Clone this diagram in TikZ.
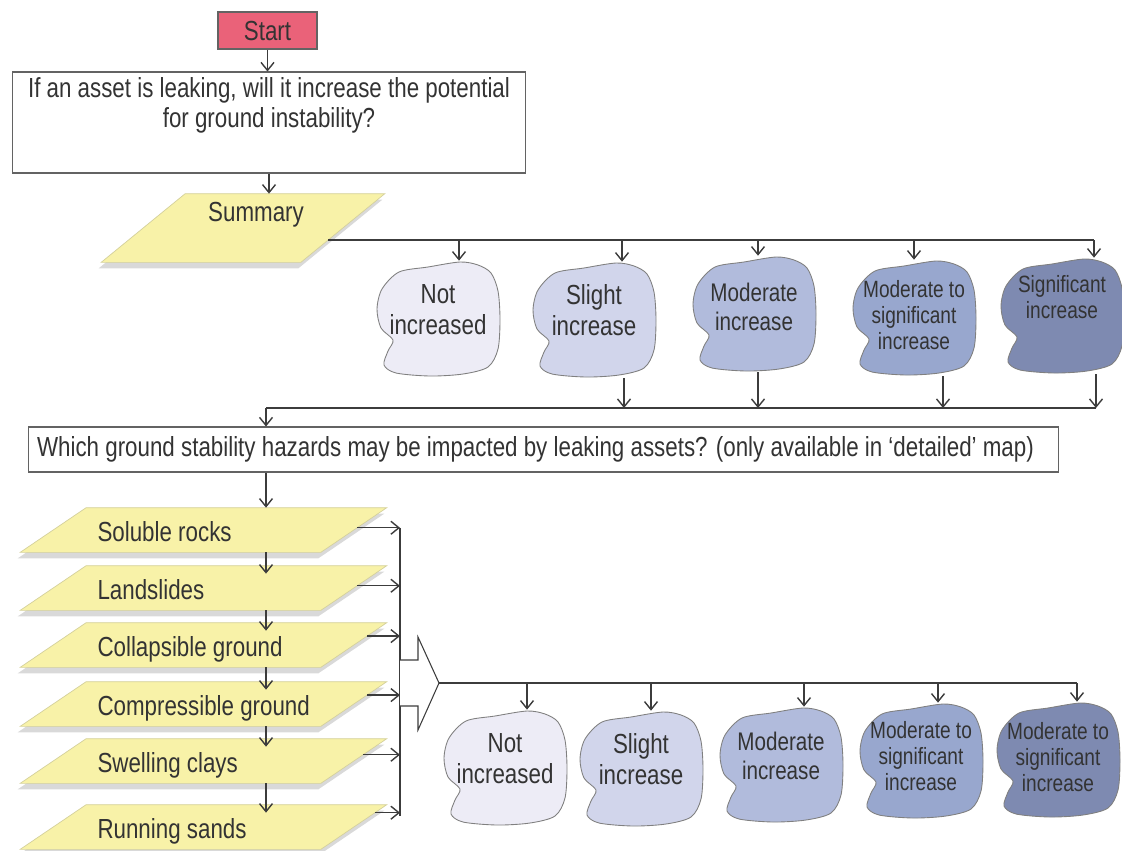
\documentclass[tikz,border=0pt]{standalone}
\usepackage{fontspec}
\setmainfont{Liberation Sans}[FakeStretch=0.81]
\usetikzlibrary{arrows.meta,positioning,calc,backgrounds,shadows}

\definecolor{linegray}{HTML}{3C3C3C}
\definecolor{startred}{HTML}{EA6279}
\definecolor{paleyellow}{HTML}{F8F2A8}
\definecolor{blobA}{HTML}{EDECF6}
\definecolor{blobB}{HTML}{D1D5EB}
\definecolor{blobC}{HTML}{B1BBDC}
\definecolor{blobD}{HTML}{98A7CE}
\definecolor{blobE}{HTML}{7E8AB1}

\newcommand{\bigfont}{\fontsize{15.7}{17.3}\selectfont}
\newcommand{\midfont}{\fontsize{14.5}{16.4}\selectfont}
\newcommand{\smallfont}{\fontsize{13.4}{14.8}\selectfont}
% text in a blob, lifted a bit above the middle
\newcommand{\blobtext}[2][2.4mm]{\begin{tabular}{@{}c@{}}#2\\[#1]\end{tabular}}

\tikzset{
  conn/.style={draw=linegray, line width=0.8pt},
  arr/.style={conn, -{Straight Barb[length=1.6mm,width=2.6mm]}},
  box/.style={draw=linegray!80, line width=0.6pt, fill=white, inner sep=0pt},
  hazard/.style={minimum width=6cm, minimum height=0.88cm, inner sep=0pt,
    text height=0.44cm, text depth=0cm},
  para/.style={fill=paleyellow, draw=paleyellow!70!gray, line width=0.4pt,
    drop shadow={shadow xshift=-0.5mm, shadow yshift=-1.2mm, opacity=0.3}},
  blob/.style={minimum width=2.56cm, minimum height=2.32cm, inner sep=0pt},
  blobline/.style={draw=gray, line width=0.5pt},
  every node/.style={text=black!80, font=\bigfont}
}

\begin{document}
\begin{tikzpicture}[x=0.02cm, y=-0.02cm]
\useasboundingbox (0,0) rectangle (1122,850);

% first question
\node[box, fill=startred, minimum width=1.98cm, minimum height=0.74cm] (start) at (267.5,30.5) {Start};
\node[box, minimum width=10.28cm, minimum height=2.02cm, align=center] (quest) at (269,122.5)
  {If an asset is leaking, will it increase the potential\\for ground instability?\\\strut};
\node[minimum width=3.98cm, minimum height=1.36cm, text height=0.38cm, text depth=0.64cm, inner sep=0pt]
  (sum) at (243,228) {\hspace*{0.52cm}Summary};
\begin{pgfonlayer}{background}
  \draw[para] ([xshift=0.84cm]sum.north west) -- ([xshift=0.84cm]sum.north east)
    -- ([xshift=-0.84cm]sum.south east) -- ([xshift=-0.84cm]sum.south west) -- cycle;
\end{pgfonlayer}
\draw[arr] (start.south) -- (start.south |- quest.north);
\draw[arr] (quest.south) -- (quest.south |- sum.north);

% summary classes
\node[blob] (t1) at (438,319) {\blobtext{Not\\increased}};
\node[blob] (t2) at (594,320) {\blobtext{Slight\\increase}};
\node[blob, font=\midfont] (t3) at (754,314) {\blobtext[1.6mm]{Moderate\\increase}};
\node[blob, font=\smallfont] (t4) at (914,318) {\blobtext[0mm]{Moderate to\\significant\\increase}};
\node[blob, font=\smallfont] (t5) at (1062,316) {\blobtext[6.4mm]{Significant\\increase}};

\coordinate (sumout) at (328,240);
\draw[conn] (sumout) -- (1094,240);
\foreach \n/\x in {t1/459, t2/622, t3/758, t4/914, t5/1094}
  \draw[arr] (\x,240) -- (\n.north -| \x,0);

\coordinate (busL) at (266,408);
\coordinate (busR) at (1096,408);
\foreach \n/\x in {t2/624, t3/758, t4/943, t5/1096}
  \draw[arr] (\n.south -| \x,0) -- (busL -| \x,0);
\draw[conn] (busR) -- (busL);

% second question
\node[box, minimum width=20.62cm, minimum height=0.9cm] (which) at (543.5,449.5)
  {\makebox[20.26cm][l]{Which ground stability hazards may be impacted by leaking assets? (only available in ‘detailed’ map)}};
\draw[arr] (busL) -- (busL |- which.north);

% hazards
\foreach \t/\txt/\f [count=\k] in {508/Soluble rocks/0.45, 566/Landslides/0.45, 623/Collapsible ground/0.3,
    682/Compressible ground/0.3, 739/Swelling clays/0.36, 805/Running sands/0.18} {
  \node[hazard] (h\k) at (203.5,\t+22) {\makebox[4.24cm][l]{\txt}};
  \coordinate (r\k) at ($([xshift=0.66cm]h\k.north east)!\f!([xshift=-0.66cm]h\k.south east)$);
}
\begin{pgfonlayer}{background}
  \foreach \k in {1,...,6}
    \draw[para] ([xshift=0.66cm]h\k.north west) -- ([xshift=0.66cm]h\k.north east)
      -- ([xshift=-0.66cm]h\k.south east) -- ([xshift=-0.66cm]h\k.south west) -- cycle;
\end{pgfonlayer}
\draw[arr] (which.south -| busL) -- (h1.north -| busL);
\foreach \k [evaluate=\k as \j using int(\k+1)] in {1,...,5}
  \draw[arr, shorten >=-1.6mm] (h\k.south -| busL) -- (h\j.north -| busL);

\coordinate (hzbus) at (400,0);
\foreach \k in {1,...,6}
  \draw[arr] (r\k) -- (r\k -| hzbus);
\draw[conn] (r1 -| hzbus) -- ([yshift=-0.06cm]r6 -| hzbus);

% big arrow to the classes
\coordinate (bigtip) at (439,683);
\draw[conn, line width=0.6pt, fill=white] (400,660) -- (418,660) -- (418,637) -- (bigtip)
  -- (418,730) -- (418,706) -- (400,706);
\draw[conn] (bigtip) -- (1077,683);

\node[blob] (b1) at (505,768) {\blobtext{Not\\increased}};
\node[blob] (b2) at (641,769) {\blobtext{Slight\\increase}};
\node[blob, font=\midfont] (b3) at (781,765) {\blobtext{Moderate\\increase}};
\node[blob, font=\smallfont] (b4) at (921,761) {\blobtext[0.6mm]{Moderate to\\significant\\increase}};
\node[blob, font=\smallfont] (b5) at (1058,760) {\blobtext[0mm]{Moderate to\\significant\\increase}};
\foreach \n/\x in {b1/527, b2/651, b3/804, b4/938, b5/1077}
  \draw[arr] (\x,683) -- (\n.north -| \x,0);

\begin{pgfonlayer}{background}
  \foreach \n/\c in {t1/blobA, t2/blobB, t3/blobC, t4/blobD, t5/blobE,
      b1/blobA, b2/blobB, b3/blobC, b4/blobD, b5/blobE}
    \draw[blobline, fill=\c, shift={(\n.center)}] plot[smooth cycle] coordinates
      {(-39,-47) (-10,-52) (22,-57) (40,-54) (53,-46) (60,-28) (62,0) (60,30) (50,48)
       (25,55) (-8,57) (-42,54) (-54,46) (-50,32) (-45,21) (-57,9) (-61,-10) (-56,-30)};
\end{pgfonlayer}
\end{tikzpicture}
\end{document}
